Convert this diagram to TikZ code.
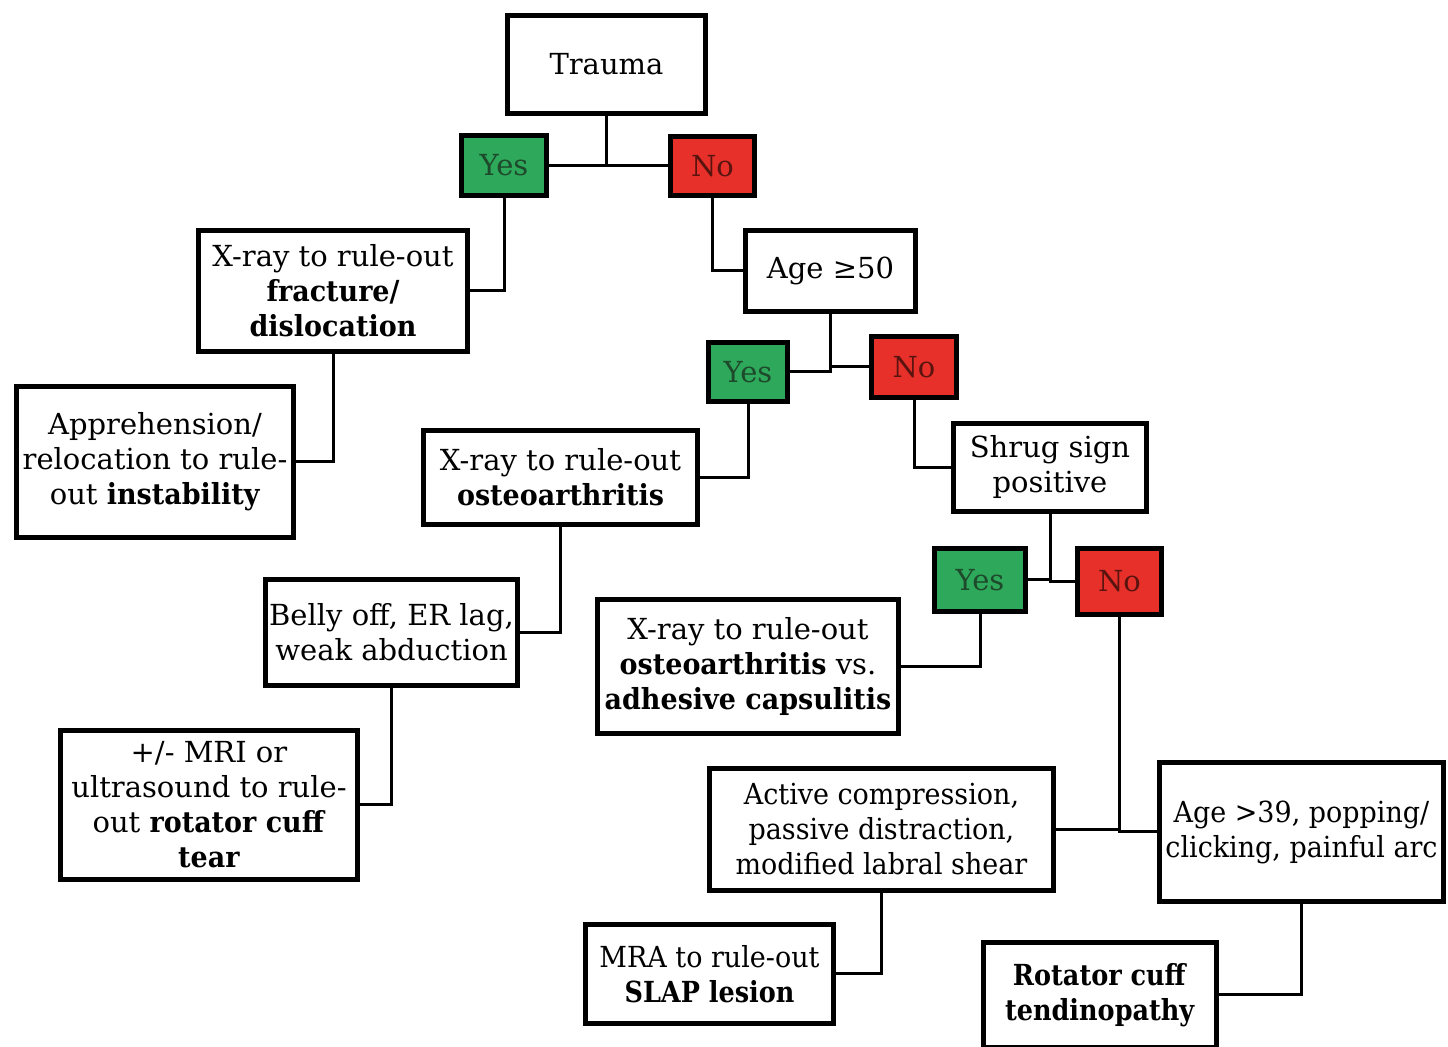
\documentclass[tikz,border=0pt]{standalone}
\usepackage{fontspec}
\setmainfont{DejaVu Serif}[BoldFeatures={FakeStretch=0.93}]
\newfontfamily\narrowfont{DejaVu Serif}[FakeStretch=0.93,BoldFeatures={FakeStretch=0.88}]
\definecolor{YesGreen}{HTML}{2EA85A}
\definecolor{NoRed}{HTML}{E8302A}
\definecolor{YesText}{HTML}{1E4A2C}
\definecolor{NoText}{HTML}{5A1410}
\usepackage{tikz}
\usetikzlibrary{shadows}
\tikzset{
  box/.style={draw,line width=2.4pt,fill=white,align=center,inner sep=2pt,
    font=\fontsize{14.5}{17.5}\selectfont,
    drop shadow={shadow xshift=1.2pt,shadow yshift=-1.2pt,opacity=0.2}},
  narrowbox/.style={box,font=\narrowfont\fontsize{14.5}{17.5}\selectfont},
  yesbox/.style={box,fill=YesGreen,text=YesText},
  nobox/.style={box,fill=NoRed,text=NoText},
  sz/.style 2 args={minimum width=#1*0.5pt-2.4pt,minimum height=#2*0.5pt-2.4pt},
  link/.style={line width=1.5pt}
}

\begin{document}
\begin{tikzpicture}[x=0.5pt,y=-0.5pt]
      \useasboundingbox (0,0) rectangle (1448,1047);
      % trauma branch
      \node[box,sz={203}{103}] (trauma) at (606.5,64.5) {Trauma};
      \node[yesbox,sz={90}{65}] (yes1) at (504,165.5) {Yes};
      \node[nobox,sz={89}{64}] (no1) at (712.5,166) {No};
      \node[box,sz={274}{126}] (xfrac) at (333,291) {X-ray to rule-out\\\textbf{fracture/}\\\textbf{dislocation}};
      \node[box,sz={282}{156}] (appr) at (155,462) {Apprehension/\\relocation to rule-\\out \textbf{instability}};
      % age branch
      \node[box,sz={175}{86}] (age50) at (830.5,271) {Age ≥50};
      \node[yesbox,sz={84}{64}] (yes2) at (748,372) {Yes};
      \node[nobox,sz={90}{66}] (no2) at (914,367) {No};
      \node[box,sz={279}{99}] (xoa) at (560.5,477.5) {X-ray to rule-out\\\textbf{osteoarthritis}};
      \node[box,sz={253}{111}] (belly) at (391.5,632.5) {Belly off, ER lag,\\weak abduction};
      \node[box,sz={302}{154}] (mri) at (209,805) {+/- MRI or\\ultrasound to rule-\\out \textbf{rotator cuff}\\\textbf{tear}};
      % shrug branch
      \node[box,sz={198}{93}] (shrug) at (1050,467.5) {Shrug sign\\positive};
      \node[yesbox,sz={96}{68}] (yes3) at (980,580) {Yes};
      \node[nobox,sz={89}{71}] (no3) at (1119.5,581.5) {No};
      \node[box,sz={306}{139}] (xoaac) at (748,666.5) {X-ray to rule-out\\\textbf{osteoarthritis} vs.\\\textbf{adhesive capsulitis}};
      \node[narrowbox,sz={349}{127}] (active) at (881.5,829.5) {Active compression,\\passive distraction,\\modified labral shear};
      \node[narrowbox,sz={289}{144}] (age39) at (1301.5,832) {Age >39, popping/\\clicking, painful arc};
      \node[narrowbox,sz={253}{104}] (mra) at (709.5,974) {MRA to rule-out\\\textbf{SLAP lesion}};
      \node[narrowbox,sz={238}{110}] (rct) at (1100,995) {\textbf{Rotator cuff}\\\textbf{tendinopathy}};
      % connectors
      \draw[link] (yes1.east) -| (trauma.south);
      \draw[link] (no1.west) -| (trauma.south);
      \draw[link] (yes1.south) |- (xfrac.east);
      \draw[link] (xfrac.south) |- (appr.east);
      \draw[link] (no1.south) |- (age50.west);
      \draw[link] (yes2.east) -| (age50.south);
      \draw[link] (no2.west) -| (age50.south);
      \draw[link] (yes2.south) |- (xoa.east);
      \draw[link] (xoa.south) |- (belly.east);
      \draw[link] (belly.south) |- (mri.east);
      \draw[link] (no2.south) |- (shrug.west);
      \draw[link] (yes3.east) -| (shrug.south);
      \draw[link] (no3.west) -| (shrug.south);
      \draw[link] (yes3.south) |- (xoaac.east);
      \draw[link] (active.east) -| (no3.south);
      \draw[link] (age39.west) -| (no3.south);
      \draw[link] (active.south) |- (mra.east);
      \draw[link] (age39.south) |- (rct.east);
    \end{tikzpicture}
\end{document}
